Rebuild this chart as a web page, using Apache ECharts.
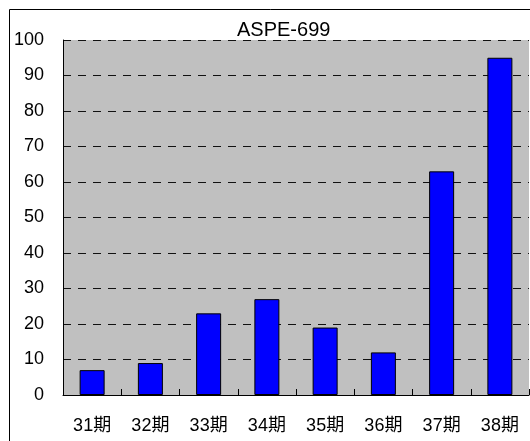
<!DOCTYPE html>
<html>
<head>
<meta charset="utf-8">
<script src="https://cdn.jsdelivr.net/npm/echarts@6/dist/echarts.min.js"></script>
<style>
  html, body { margin: 0; padding: 0; background: #fff; }
  #main { width: 530px; height: 441px; }
</style>
</head>
<body>
<div id="main"></div>
<script>
// data
var categories = ['31期', '32期', '33期', '34期', '35期', '36期', '37期', '38期'];
var values = [7, 9, 23, 27, 19, 12, 63, 95];
var chartTitle = 'ASPE-699';

var font = '"Liberation Sans", Arial, "Noto Sans CJK SC", sans-serif';
var myChart = echarts.init(document.getElementById('main'));

var option = {
    animation: false,
    title: {
        text: chartTitle,
        left: 232,
        top: 15,
        textStyle: { fontFamily: font, fontSize: 20, fontWeight: 'normal', color: '#000' }
    },
    graphic: [
        {
            // outer chart frame
            type: 'rect',
            shape: { x: 9.5, y: 9.5, width: 540, height: 460 },
            style: { fill: 'none', stroke: '#000', lineWidth: 1 },
            z: 100
        }
    ],
    grid: {
        left: 63,
        top: 40,
        right: 1,
        bottom: 46,
        show: true,
        backgroundColor: '#c0c0c0',
        borderWidth: 0
    },
    xAxis: {
        type: 'category',
        data: categories,
        axisLine: { lineStyle: { color: '#000', width: 1 } },
        axisTick: { show: true, inside: true, length: 6, lineStyle: { color: '#000', width: 1 } },
        axisLabel: { margin: 22, fontFamily: font, fontSize: 18, color: '#000', interval: 0 }
    },
    yAxis: {
        type: 'value',
        min: 0,
        max: 100,
        interval: 10,
        axisLine: { show: true, lineStyle: { color: '#000', width: 1 } },
        axisTick: { show: false },
        axisLabel: { margin: 19, fontFamily: font, fontSize: 18, color: '#000' },
        splitLine: { lineStyle: { color: '#111', type: [8, 7], width: 1 } }
    },
    series: [
        {
            type: 'bar',
            data: values,
            barWidth: 25,
            itemStyle: { color: '#0000ff', borderColor: '#000', borderWidth: 1 }
        }
    ]
};
myChart.setOption(option);
</script>
</body>
</html>
